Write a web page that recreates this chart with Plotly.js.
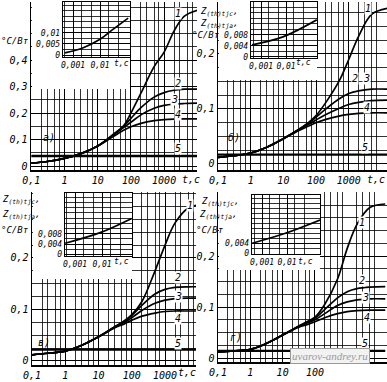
<!DOCTYPE html>
<html><head><meta charset="utf-8">
<script src="https://cdn.plot.ly/plotly-3.0.1.min.js"></script>
<style>html,body{margin:0;padding:0;background:#fff}</style>
</head><body><div id="c" style="width:387px;height:382px"></div>
<script>
// ---------- DATA ----------
// panel а)
const tA = [0.1, 0.3, 1, 3, 10, 30, 60, 100, 200, 500, 1000, 2000, 4000, 10000];
const a1 = [0.011, 0.017, 0.029, 0.046, 0.076, 0.12, 0.152, 0.2, 0.275, 0.375, 0.43, 0.51, 0.565, 0.588];
const a2 = [0.011, 0.017, 0.029, 0.046, 0.076, 0.12, 0.15, 0.18, 0.22, 0.26, 0.277, 0.286, 0.29, 0.29];
const a3 = [0.011, 0.017, 0.029, 0.046, 0.076, 0.118, 0.145, 0.165, 0.193, 0.218, 0.229, 0.234, 0.236, 0.237];
const a4 = [0.011, 0.017, 0.029, 0.046, 0.075, 0.112, 0.135, 0.148, 0.161, 0.171, 0.175, 0.177, 0.178, 0.178];
const tA5 = [0.1, 10000];
const a5 = [0.038, 0.038];
const tAi = [0.0005, 0.0024, 0.01, 0.031, 0.11];
const aIn = [0.001, 0.0033, 0.0071, 0.0117, 0.0167];
// panel б)
const tB = [0.1, 0.3, 1, 3, 10, 30, 60, 100, 200, 500, 1000, 2000, 5000, 15000];
const b1 = [0.012, 0.015, 0.02, 0.03, 0.046, 0.063, 0.076, 0.088, 0.112, 0.15, 0.19, 0.232, 0.272, 0.283];
const b2 = [0.012, 0.015, 0.02, 0.03, 0.046, 0.063, 0.074, 0.085, 0.1, 0.118, 0.128, 0.133, 0.136, 0.136];
const b3 = [0.012, 0.015, 0.02, 0.03, 0.046, 0.062, 0.072, 0.08, 0.09, 0.101, 0.108, 0.112, 0.115, 0.116];
const b4 = [0.012, 0.015, 0.02, 0.03, 0.046, 0.061, 0.069, 0.075, 0.081, 0.087, 0.09, 0.092, 0.093, 0.093];
const tB5 = [0.1, 15000];
const b5 = [0.017, 0.017];
const tBi = [0.00044, 0.008, 0.17];
const bIn = [0.0044, 0.0074, 0.0135];
// panel в)
const tC = [0.1, 0.3, 1, 3, 10, 30, 60, 100, 200, 500, 1000, 2000, 5000, 10000];
const c1 = [0.012, 0.015, 0.019, 0.03, 0.047, 0.066, 0.078, 0.09, 0.115, 0.175, 0.225, 0.268, 0.297, 0.303];
const c2 = [0.012, 0.015, 0.019, 0.03, 0.047, 0.066, 0.077, 0.088, 0.108, 0.13, 0.139, 0.143, 0.144, 0.144];
const c3 = [0.012, 0.015, 0.019, 0.03, 0.047, 0.065, 0.075, 0.084, 0.098, 0.112, 0.118, 0.121, 0.122, 0.122];
const c4 = [0.012, 0.015, 0.019, 0.03, 0.047, 0.064, 0.072, 0.079, 0.087, 0.093, 0.096, 0.097, 0.097, 0.097];
const tC5 = [0.1, 10000];
const c5 = [0.022, 0.022];
const tCi = [0.00043, 0.0085, 0.125];
const cIn = [0.0043, 0.0084, 0.0139];
// panel г)
const tD = [0.1, 0.3, 1, 3, 10, 30, 60, 100, 200, 500, 1000, 2000, 5000, 15000];
const d1 = [0.012, 0.014, 0.017, 0.028, 0.045, 0.062, 0.072, 0.08, 0.105, 0.155, 0.215, 0.262, 0.295, 0.302];
const d2 = [0.012, 0.014, 0.017, 0.028, 0.045, 0.062, 0.071, 0.078, 0.095, 0.118, 0.13, 0.136, 0.139, 0.14];
const d3 = [0.012, 0.014, 0.017, 0.028, 0.045, 0.061, 0.069, 0.075, 0.087, 0.103, 0.11, 0.114, 0.116, 0.116];
const d4 = [0.012, 0.014, 0.017, 0.028, 0.045, 0.06, 0.066, 0.071, 0.079, 0.087, 0.091, 0.093, 0.094, 0.094];
const tD5 = [0.1, 15000];
const d5 = [0.014, 0.014];
const tDi = [0.0004, 0.0086, 0.21];
const dIn = [0.0039, 0.0079, 0.0132];

const xTickA = [0.1, 1, 10, 100, 1000];
const xTickD = [0.1, 1, 10, 100];
const insetXTicks = [0.001, 0.01];

// ---------- LAYOUT ----------
const W = 387, H = 382;
const FONT = {family: 'DejaVu Sans Mono, monospace', size: 10, color: '#000', style: 'italic'};
const SMALL = {family: 'DejaVu Sans Mono, monospace', size: 8, color: '#000', style: 'italic'};
const UNIT = {family: 'DejaVu Sans Mono, monospace', size: 9, color: '#000', style: 'italic'};
const fmt = v => String(v).replace('.', ',');
const dx = (L, R) => [L / W, R / W];
const dy = (T, B) => [1 - B / H, 1 - T / H];
function logMinor(d0, d1, ks) { const v = []; for (let d = d0; d <= d1; d++) ks.forEach(k => v.push(k * Math.pow(10, d))); return v; }
function linMinor(step, hi) { const v = []; for (let i = 0; i * step <= hi + 1e-12; i++) v.push(+(i * step).toFixed(6)); return v; }

const panels = [
  {t: tA, c: [a1, a2, a3, a4], t5: tA5, c5: a5, ti: tAi, ci: aIn,
   main: [31, 197, 2, 170], xr: [-1.01, 3.99], yr: [-0.015, 0.619], yt: [0, 0.1, 0.2, 0.3, 0.4], ym: 0.05, xt: xTickA,
   cover: [32, 130, 0, 89], inset: [63, 130, 2, 57], ixr: [-3.37, -0.89], iyr: [-0.0009, 0.024], iyt: [0, 0.005, 0.01], iym: 0.005},
  {t: tB, c: [b1, b2, b3, b4], t5: tB5, c5: b5, ti: tBi, ci: bIn,
   main: [218, 387, 2, 170], xr: [-1, 4.17], yr: [-0.011, 0.2945], yt: [0, 0.1, 0.2], ym: 0.025, xt: xTickA,
   cover: [219, 317, 0, 80], inset: [251, 317, 2, 58], ixr: [-3.4, -0.76], iyr: [-0.0004, 0.02], iyt: [0, 0.004, 0.008], iym: 0.004},
  {t: tC, c: [c1, c2, c3, c4], t5: tC5, c5: c5, ti: tCi, ci: cIn,
   main: [32, 196, 192, 365], xr: [-1, 3.93], yr: [-0.0078, 0.328], yt: [0, 0.1, 0.2], ym: 0.025, xt: xTickA,
   cover: [33, 132, 190, 279], inset: [65, 132, 193, 256], ixr: [-3.37, -0.89], iyr: [-0.0006, 0.0237], iyt: [0, 0.004, 0.008], iym: 0.004},
  {t: tD, c: [d1, d2, d3, d4], t5: tD5, c5: d5, ti: tDi, ci: dIn,
   main: [218, 387, 192, 362], xr: [-1, 4.23], yr: [-0.0078, 0.3255], yt: [0, 0.1, 0.2], ym: 0.025, xt: xTickD,
   cover: [219, 320, 190, 270], inset: [252, 320, 195, 254], ixr: [-3.4, -0.68], iyr: [-0.0004, 0.0232], iyt: [0, 0.004], iym: 0.004}
];

const traces = [];
const layout = {width: W, height: H, margin: {l: 0, r: 0, t: 0, b: 0}, paper_bgcolor: '#fff', plot_bgcolor: '#fff',
  showlegend: false, font: FONT, annotations: []};
const grid = {showgrid: true, gridcolor: '#000', gridwidth: 1, zeroline: false, fixedrange: true};
const mgrid = {showgrid: true, gridcolor: '#000', gridwidth: 0.8, ticks: ''};

panels.forEach((p, i) => {
  const m = 3 * i + 1, cv = 3 * i + 2, ins = 3 * i + 3;
  const xm = 'x' + m, ym = 'y' + m;
  layout['xaxis' + m] = Object.assign({type: 'log', domain: dx(p.main[0], p.main[1]), anchor: ym, range: p.xr,
    tickmode: 'array', tickvals: p.xt, ticktext: p.xt.map(fmt), ticks: '', tickfont: FONT, tickangle: 0,
    showline: true, linecolor: '#000', linewidth: 1.5,
    minor: Object.assign({tickmode: 'array', tickvals: logMinor(-1, 4, [2, 3, 5, 7])}, mgrid)}, grid);
  layout['yaxis' + m] = Object.assign({domain: dy(p.main[2], p.main[3]), anchor: xm, range: p.yr,
    tickmode: 'array', tickvals: p.yt, ticktext: p.yt.map(fmt), ticks: 'inside', ticklen: 4, tickcolor: '#000', tickfont: FONT,
    showline: true, linecolor: '#000', linewidth: 1.5,
    minor: Object.assign({tickmode: 'array', tickvals: linMinor(p.ym, p.yr[1])}, mgrid)}, grid);
  p.c.forEach(arr => traces.push({x: p.t, y: arr, xaxis: xm, yaxis: ym, mode: 'lines',
    line: {color: '#000', width: 1.7, shape: 'spline', smoothing: 1}, hoverinfo: 'skip'}));
  traces.push({x: p.t5, y: p.c5, xaxis: xm, yaxis: ym, mode: 'lines', line: {color: '#000', width: 2.4}, hoverinfo: 'skip'});

  // white cover behind inset
  layout['xaxis' + cv] = {domain: dx(p.cover[0], p.cover[1]), anchor: 'y' + cv, range: [0, 1], visible: false, fixedrange: true};
  layout['yaxis' + cv] = {domain: dy(p.cover[2], p.cover[3]), anchor: 'x' + cv, range: [0, 1], visible: false, fixedrange: true};
  traces.push({x: [null], y: [null], xaxis: 'x' + cv, yaxis: 'y' + cv, mode: 'lines', hoverinfo: 'skip'});

  // inset
  layout['xaxis' + ins] = Object.assign({type: 'log', domain: dx(p.inset[0], p.inset[1]), anchor: 'y' + ins, range: p.ixr,
    tickmode: 'array', tickvals: insetXTicks, ticktext: insetXTicks.map(fmt), ticks: '', tickfont: SMALL, tickangle: 0,
    showline: true, mirror: true, linecolor: '#000', linewidth: 1.3,
    minor: Object.assign({tickmode: 'array', tickvals: logMinor(-4, -1, [2, 5])}, mgrid)}, grid);
  layout['yaxis' + ins] = Object.assign({domain: dy(p.inset[2], p.inset[3]), anchor: 'x' + ins, range: p.iyr,
    tickmode: 'array', tickvals: p.iyt, ticktext: p.iyt.map(fmt), ticks: '', tickfont: SMALL,
    showline: true, mirror: true, linecolor: '#000', linewidth: 1.3,
    minor: Object.assign({tickmode: 'array', tickvals: linMinor(p.iym / 2, p.iyr[1])}, mgrid)}, grid);
  traces.push({x: p.ti, y: p.ci, xaxis: 'x' + ins, yaxis: 'y' + ins, mode: 'lines',
    line: {color: '#000', width: 1.7, shape: 'spline'}, hoverinfo: 'skip'});
});

// text annotations (pixel positions -> paper)
function ann(text, px, py, extra) {
  layout.annotations.push(Object.assign({text: text, x: px / W, y: 1 - py / H, xref: 'paper', yref: 'paper',
    showarrow: false, font: FONT, xanchor: 'center', yanchor: 'middle'}, extra || {}));
}
// curve numbers
[[178, 13, '1'], [178, 83, '2'], [174, 99, '3'], [178, 114, '4'], [178, 148, '5'],
 [368, 8, '1'], [355, 78, '2'], [366, 78, '3'], [367, 107, '4'], [365, 147, '5'],
 [190, 205, '1'], [178, 277, '2'], [178, 296, '3'], [178, 318, '4'], [178, 343, '5'],
 [362, 222, '1'], [362, 280, '2'], [365, 297, '3'], [367, 317, '4'], [365, 343, '5']]
 .forEach(a => ann(a[2], a[0], a[1], {bgcolor: '#fff', borderpad: 0}));
// panel letters
ann('а)', 49, 137); ann('б)', 234, 137); ann('в)', 44, 342); ann('г)', 236, 337);
// time units
ann('t,c', 191, 179); ann('t,c', 376, 179); ann('t,c', 187, 372);
ann('t,c', 121, 64, {font: SMALL}); ann('t,c', 303, 63, {font: SMALL}); ann('t,c', 121, 261, {font: SMALL}); ann('t,c', 305, 261, {font: SMALL});
// y units
ann('°C/Вт', 15, 41, {font: UNIT});
ann('Z<sub>(th)tjc</sub>,', 219, 12, {font: UNIT}); ann('Z<sub>(th)tja</sub>,', 219, 24, {font: UNIT}); ann('°C/Вт', 206, 35, {font: UNIT});
ann('Z<sub>(th)tjc</sub>,', 21, 200, {font: UNIT}); ann('Z<sub>(th)tja</sub>,', 21, 215, {font: UNIT}); ann('°C/Вт', 15, 230, {font: UNIT});
ann('Z<sub>(th)tjc</sub>,', 220, 202, {font: UNIT}); ann('Z<sub>(th)tja</sub>,', 218, 215, {font: UNIT}); ann('°C/Вт', 210, 230, {font: UNIT});
// watermark
ann('uvarov-andrey.ru', 330, 356, {font: {family: 'Liberation Serif', size: 11, color: '#9a9a9a'},
  bgcolor: '#f2f2f2', bordercolor: '#999', borderwidth: 1, borderpad: 1});

Plotly.newPlot('c', traces, layout, {staticPlot: true, displayModeBar: false});
</script></body></html>
